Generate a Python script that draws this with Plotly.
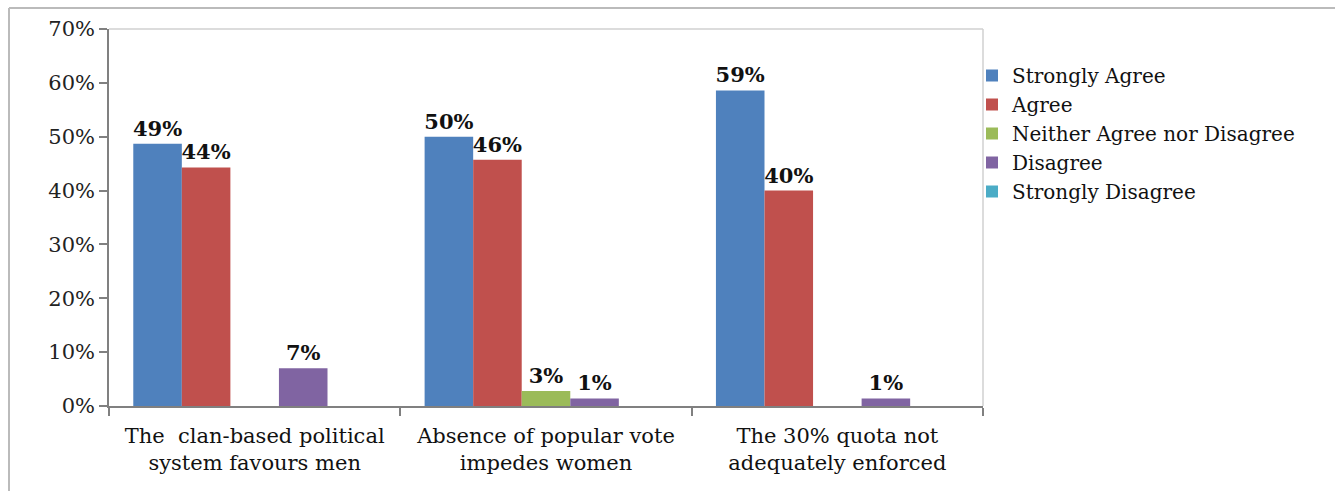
import plotly.graph_objects as go

categories = ["The  clan-based political<br>system favours men",
              "Absence of popular vote<br>impedes women",
              "The 30% quota not<br>adequately enforced"]
series_names = ["Strongly Agree", "Agree", "Neither Agree nor Disagree",
                "Disagree", "Strongly Disagree"]
strongly_agree = [48.7, 50.0, 58.6]
agree = [44.3, 45.7, 40.0]
neither = [0, 2.8, 0]
disagree = [7.0, 1.4, 1.4]
strongly_disagree = [0, 0, 0]
colors = ["#4F81BD", "#C0504D", "#9BBB59", "#8064A2", "#4BACC6"]
y_ticks = [0, 10, 20, 30, 40, 50, 60, 70]
y_tick_labels = [f"{v}%" for v in y_ticks]

all_series = [strongly_agree, agree, neither, disagree, strongly_disagree]

W, H = 1335, 491
ML, MR, MT, MB = 109, 352, 29, 85
pw = W - ML - MR
ph = H - MT - MB

FONT = "DejaVu Serif"

fig = go.Figure()
for name, vals, col in zip(series_names, all_series, colors):
    fig.add_trace(go.Bar(
        x=categories, y=vals, name=name,
        marker=dict(color=col, line=dict(width=0)),
        text=[f"{v:.0f}%" if v else "" for v in vals],
        textposition="outside",
        textfont=dict(family=FONT, size=21, color="#111111", weight="bold"),
        constraintext="none",
        cliponaxis=False,
        hoverinfo="skip",
    ))

shapes = [
    # plot area border (top & right)
    dict(type="line", xref="paper", yref="paper", x0=0, x1=1, y0=1, y1=1,
         line=dict(color="#D0D0D0", width=1.5)),
    dict(type="line", xref="paper", yref="paper", x0=1, x1=1, y0=0, y1=1,
         line=dict(color="#D0D0D0", width=1.5)),
    # outer frame (top & left)
    dict(type="line", xref="paper", yref="paper",
         x0=(9 - ML) / pw, x1=(W - ML) / pw + 0.01,
         y0=(H - MB - 8) / ph, y1=(H - MB - 8) / ph,
         line=dict(color="#BBBBBB", width=2)),
    dict(type="line", xref="paper", yref="paper",
         x0=(9 - ML) / pw, x1=(9 - ML) / pw,
         y0=(H - MB - 8) / ph, y1=-MB / ph - 0.01,
         line=dict(color="#BBBBBB", width=2)),
]

fig.update_layout(
    width=W, height=H,
    margin=dict(l=ML, r=MR, t=MT, b=MB, pad=0),
    paper_bgcolor="white", plot_bgcolor="white",
    barmode="group", bargap=1/6, bargroupgap=0,
    font=dict(family=FONT, color="#111111"),
    showlegend=True,
    legend=dict(x=(972 - ML) / pw, xanchor="left",
                y=(H - MB - 56) / ph, yanchor="top",
                font=dict(family=FONT, size=20, color="#111111"),
                bgcolor="rgba(0,0,0,0)", borderwidth=0,
                tracegroupgap=0),
    shapes=shapes,
    xaxis=dict(
        tickson="boundaries", ticks="outside", ticklen=8, tickwidth=1.5,
        tickcolor="#808080", showline=True, linecolor="#808080", linewidth=1.5,
        showgrid=False, tickangle=0, ticklabelstandoff=10,
        tickfont=dict(family=FONT, size=21, color="#111111"),
    ),
    yaxis=dict(
        range=[0, 70], tickmode="array", tickvals=y_ticks, ticktext=y_tick_labels,
        ticks="outside", ticklen=8, tickwidth=1.5, tickcolor="#808080",
        showline=True, linecolor="#808080", linewidth=1.5,
        showgrid=False, zeroline=False,
        tickfont=dict(family=FONT, size=21, color="#222222"),
    ),
)

fig.write_html("out.html")
